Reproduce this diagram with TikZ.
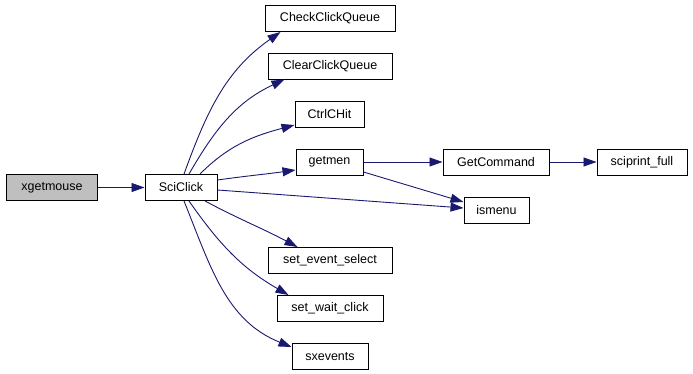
\documentclass[tikz,border=0pt]{standalone}
\usepackage{fontspec}
\setmainfont{Liberation Sans}
\usetikzlibrary{arrows.meta}
\definecolor{edgeblue}{HTML}{191970}
\definecolor{rootgray}{HTML}{BFBFBF}

\begin{document}
\begin{tikzpicture}[x=1bp,y=1bp,
  fn/.style={draw,line width=1bp,inner sep=0pt,font=\fontsize{12.5bp}{15bp}\selectfont,
             minimum height=26bp,minimum width=#1,fill=white},fn/.default=80bp,
  call/.style={draw=edgeblue,line width=0.9bp,-{Triangle[length=13bp,width=9bp]}}]
  \useasboundingbox (0,0) rectangle (693,373);
  % caller and callee
  \node[fn=90bp,fill=rootgray] (xgetmouse) at (52,185.5) {xgetmouse};
  \node[fn=72bp] (SciClick) at (181,185.5) {SciClick};
  % functions called by SciClick
  \node[fn=130bp] (CheckClickQueue) at (330,354.5) {CheckClickQueue};
  \node[fn=124bp] (ClearClickQueue) at (330,307) {ClearClickQueue};
  \node[fn=69bp] (CtrlCHit) at (329.5,259) {CtrlCHit};
  \node[fn=67bp] (getmen) at (329.5,211) {getmen};
  \node[fn=106bp] (GetCommand) at (496,211) {GetCommand};
  \node[fn=90bp] (sciprintfull) at (642,211) {sciprint\_full};
  \node[fn=65bp] (ismenu) at (496.5,163) {ismenu};
  \node[fn=124bp] (seteventselect) at (330,112.5) {set\_event\_select};
  \node[fn=106bp] (setwaitclick) at (330,64.5) {set\_wait\_click};
  \node[fn=76bp] (sxevents) at (330,16.5) {sxevents};
  % call edges
  \draw[call] (xgetmouse.east) -- (SciClick.west);
  \draw[call] ([xshift=3bp]SciClick.north) to[out=70,in=215] ([xshift=16bp]CheckClickQueue.south west);
  \draw[call] ([xshift=8bp]SciClick.north) to[out=60,in=205] ([xshift=17bp]ClearClickQueue.south west);
  \draw[call] ([xshift=19bp]SciClick.north) to[out=45,in=195] ([yshift=-11bp]CtrlCHit.west);
  \draw[call] ([yshift=7.5bp]SciClick.east) to[out=8,in=188] ([yshift=-8bp]getmen.west);
  \draw[call] ([yshift=-2.5bp]SciClick.east) -- ([yshift=2bp]ismenu.west);
  \draw[call] (getmen.east) -- (GetCommand.west);
  \draw[call] (GetCommand.east) -- (sciprintfull.west);
  \draw[call] ([yshift=-10bp]getmen.east) -- ([yshift=8bp]ismenu.west);
  \draw[call] ([xshift=24bp]SciClick.south) to[out=-28,in=152] ([xshift=30bp]seteventselect.north west);
  \draw[call] ([xshift=8bp]SciClick.south) to[out=-55,in=150] ([xshift=12bp]setwaitclick.north west);
  \draw[call] ([xshift=3bp]SciClick.south) to[out=-68,in=158] ([yshift=9.5bp]sxevents.west);
\end{tikzpicture}
\end{document}
